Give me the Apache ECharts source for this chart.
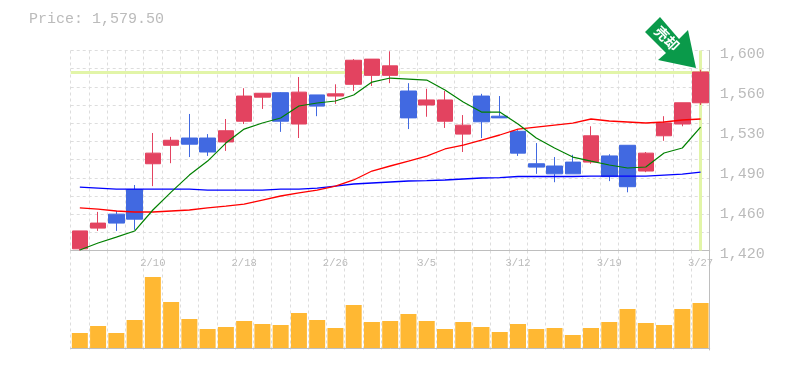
<!DOCTYPE html>
<html><head><meta charset="utf-8">
<style>html,body{margin:0;padding:0;background:#fff}#c{width:785px;height:370px}</style>
<script src="https://cdn.jsdelivr.net/npm/echarts@6/dist/echarts.min.js"></script>
</head><body><div id="c"></div>
<script>
const dates=['2/4','2/5','2/6','2/9','2/10','2/12','2/13','2/16','2/17','2/18','2/19','2/20','2/23','2/24','2/26','2/27','3/2','3/3','3/4','3/5','3/6','3/9','3/10','3/11','3/12','3/13','3/16','3/17','3/18','3/19','3/20','3/23','3/24','3/25','3/27'];
const shownDates=['2/10','2/18','2/26','3/5','3/12','3/19','3/27'];
// open, close, low, high
const candles=[[1421.5,1437.5,1420,1437.5],[1440,1444.5,1437.5,1454.5],[1452.5,1444.5,1437.5,1455.5],[1474.5,1448,1438.5,1478.5],[1497.5,1507,1477.5,1525],[1514,1518.5,1498,1521.5],[1520.5,1515,1503.5,1542],[1520.5,1508,1504.5,1524],[1517,1527,1509,1537.5],[1535.5,1558,1533,1565],[1557,1560.5,1546.5,1560.5],[1561,1535.5,1526,1561.5],[1533,1561.5,1520.5,1575],[1559,1549,1540,1559],[1558,1560,1551,1568.5],[1568.5,1590,1562.5,1591],[1576.5,1591,1567,1591],[1576.5,1585,1569.5,1598],[1562.5,1538.5,1528.5,1569.5],[1550,1554.5,1539.5,1564.5],[1535.5,1554.5,1529.5,1562.5],[1524,1532,1508,1541],[1558,1535,1520.5,1560],[1540,1538.5,1538.5,1558],[1526.5,1507,1504.5,1527.5],[1497.5,1494.5,1488.5,1516],[1495.5,1488.5,1481,1503.5],[1499,1488.5,1488.5,1505.5],[1499,1522.5,1497.5,1531],[1504.5,1486,1482,1506],[1514,1477,1472,1514],[1491,1507,1490,1508],[1522.5,1534,1518,1540],[1533,1552,1531,1552],[1552,1579.5,1550,1581.5]];
const maShort=[1420.4,1426.7,1432,1437.4,1456.2,1472.2,1487.4,1499.9,1516,1528.5,1533.9,1538.4,1549.1,1551.8,1553.6,1558.9,1570.5,1574.1,1573.2,1572.3,1563.4,1552.7,1543.7,1543.7,1533,1520.5,1511.6,1503.5,1499.9,1496.4,1493.7,1494.6,1507.1,1511.6,1530.3];
const maMid=[1458,1457,1455.3,1454.4,1454.4,1455.3,1456.2,1458,1459.7,1461.5,1465.1,1468.7,1471.4,1474,1477.6,1483,1491,1495.5,1499.9,1504.4,1510.7,1514.2,1518.7,1523.2,1528.5,1530.3,1532.1,1533.9,1537.5,1535.7,1534.8,1533.9,1534.8,1536.6,1537.5];
const maLong=[1476.7,1475.8,1474.9,1474.9,1474.9,1474.9,1474.9,1474,1474,1474,1474,1474.9,1474.9,1475.8,1477.6,1479.4,1480.3,1481.2,1482.1,1482.5,1483,1483.9,1484.8,1485.2,1486.1,1486.1,1486.1,1486.1,1486.5,1486.5,1486.5,1486.5,1487.4,1488.3,1490.1];
const volume=[1500,2200,1500,2800,7100,4600,2900,1900,2100,2700,2400,2300,3500,2800,2000,4300,2600,2700,3400,2700,1900,2600,2100,1600,2400,1900,2000,1300,2000,2600,3900,2500,2300,3900,4500];
const priceMin=1420, priceMax=1598.7, lastPrice=1579.5;
const priceTicks=[1420,1455.74,1491.48,1527.22,1562.96,1598.7];
const priceGrid=[1420,1436.25,1452.49,1468.74,1484.98,1501.23,1517.47,1533.72,1549.96,1566.21,1582.45,1598.7];
const priceLabels=['1,420','1,460','1,490','1,530','1,560','1,600'];
const RED='#E34360',BLUE='#4169E1',GOLD='#FFB833',LIME='#E2F5A8',GRAY='#BBBBBB',GRID='#DDDDDD',EDGE='#BEBEBE';
const mono='"Liberation Mono","DejaVu Sans Mono",monospace';
const grid={type:[3,3],color:GRID,width:1};
const chart=echarts.init(document.getElementById('c'),null,{renderer:'canvas'});
const xBase={type:'category',data:dates,boundaryGap:true,axisTick:{show:false},axisLine:{show:true,lineStyle:{color:EDGE,width:1}},
  splitLine:{show:true,interval:0,lineStyle:grid}};
chart.setOption({
  animation:false,backgroundColor:'#fff',
  title:{text:'Price: 1,579.50',left:29,top:12,padding:0,textStyle:{fontFamily:mono,fontSize:15,fontWeight:'normal',color:GRAY}},
  grid:[{left:70.7,right:75.3,top:50.5,height:200},{left:70.7,right:75.3,top:250.5,height:99.5},{left:70.7,right:75.3,top:54,height:200}],
  xAxis:[
    Object.assign({},xBase,{gridIndex:0,axisLabel:{show:true,interval:(i,v)=>shownDates.includes(v),margin:7,fontFamily:mono,fontSize:10.5,color:GRAY,hideOverlap:false,showMaxLabel:true}}),
    Object.assign({},xBase,{gridIndex:1,axisLabel:{show:false}}),
    {type:'category',gridIndex:2,data:dates,show:false}
  ],
  yAxis:[
    {gridIndex:0,type:'value',position:'right',min:priceMin,max:priceMax,
     axisLine:{show:true,lineStyle:{color:EDGE,width:1}},
     axisTick:{show:false,customValues:priceGrid},
     axisLabel:{show:false},
     splitLine:{show:true,lineStyle:grid}},
    {gridIndex:1,type:'value',position:'right',min:-200,max:9750,
     axisLine:{show:true,lineStyle:{color:EDGE,width:1}},axisTick:{show:false},axisLabel:{show:false},splitLine:{show:false}},
    {gridIndex:2,type:'value',position:'right',min:priceMin,max:priceMax,
     axisLine:{show:false},axisTick:{show:false},splitLine:{show:false},
     axisLabel:{customValues:priceTicks,margin:10,fontFamily:mono,fontSize:15,color:GRAY,
       formatter:v=>priceLabels[priceTicks.indexOf(v)]}}
  ],
  series:[
    {type:'line',xAxisIndex:0,yAxisIndex:0,data:[],z:1,silent:true,symbol:'none',
     markLine:{silent:true,z:1,symbol:'none',label:{show:false},animation:false,
       lineStyle:{color:LIME,type:'solid',width:3},
       data:[{yAxis:lastPrice},{xAxis:dates[dates.length-1]}]}},
    {type:'candlestick',xAxisIndex:0,yAxisIndex:0,data:candles,barWidth:16,z:3,
     itemStyle:{color:RED,color0:BLUE,borderColor:RED,borderColor0:BLUE,borderWidth:1}},
    {type:'line',xAxisIndex:0,yAxisIndex:0,data:maLong,symbol:'none',z:4,lineStyle:{color:'#0000FF',width:1.3}},
    {type:'line',xAxisIndex:0,yAxisIndex:0,data:maMid,symbol:'none',z:4,lineStyle:{color:'#FF0000',width:1.3}},
    {type:'line',xAxisIndex:0,yAxisIndex:0,data:maShort,symbol:'none',z:4,lineStyle:{color:'#008000',width:1.2}},
    {type:'bar',xAxisIndex:1,yAxisIndex:1,data:volume,barWidth:16,itemStyle:{color:GOLD}}
  ],
  graphic:[
    {type:'polygon',z:100,shape:{points:[[660,17],[645,32],[666,53],[658,60],[696,68],[688,30],[679,39]]},style:{fill:'#0A9A4A'}},
    {type:'text',z:101,x:667,y:38.5,rotation:-Math.PI/4,style:{text:'売却',fill:'#fff',font:'bold 14px "Noto Sans CJK JP"',align:'center',verticalAlign:'middle'}}
  ]
});
</script></body></html>
